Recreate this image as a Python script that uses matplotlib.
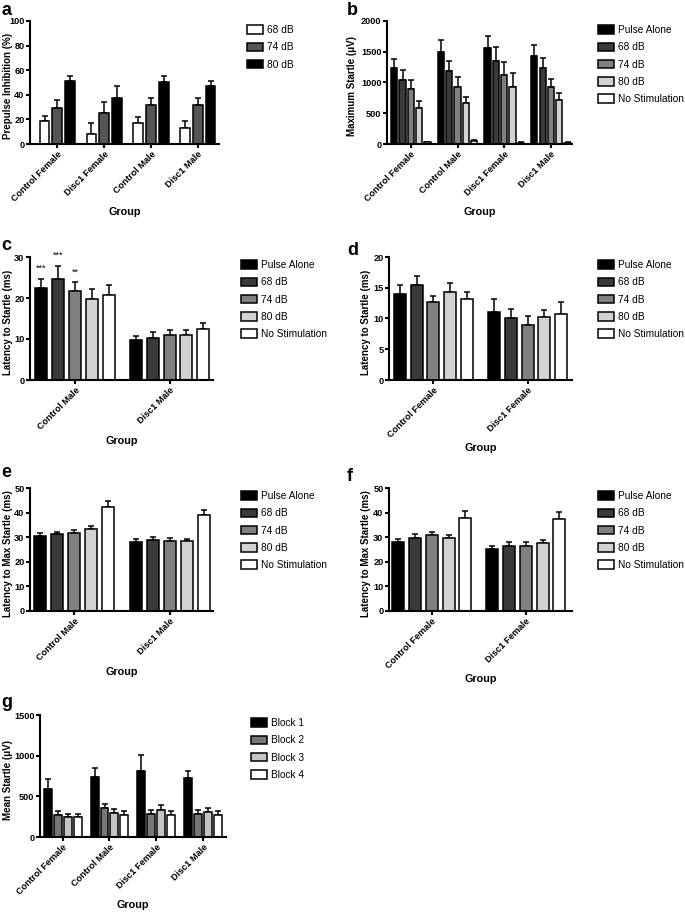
import numpy as np
import matplotlib.pyplot as plt
from matplotlib.patches import Patch

plt.rcParams['font.family'] = ['Liberation Sans', 'DejaVu Sans']

# ---- data ----
# a
groups_a = ["Control Female", "Disc1 Female", "Control Male", "Disc1 Male"]
series_a = ["68 dB", "74 dB", "80 dB"]
ppi_mean = [[18.3, 8.4, 17.2, 13.1],
            [29.2, 25.1, 31.9, 31.9],
            [51.2, 37.6, 50.7, 46.9]]
ppi_err = [[4.6, 9.0, 4.6, 5.7],
           [6.8, 8.7, 5.4, 5.4],
           [4.1, 9.5, 4.6, 4.6]]

# b
groups_b = ["Control Female", "Control Male", "Disc1 Female", "Disc1 Male"]
series_stim = ["Pulse Alone", "68 dB", "74 dB", "80 dB", "No Stimulation"]
max_mean = [[1240, 1495, 1555, 1430],
            [1035, 1180, 1350, 1240],
            [890, 930, 1125, 925],
            [590, 660, 920, 712],
            [27, 54, 20, 20]]
max_err = [[147, 200, 207, 174],
           [163, 174, 223, 158],
           [147, 152, 207, 130],
           [114, 108, 229, 125],
           [8, 10, 6, 6]]

# c
groups_c = ["Control Male", "Disc1 Male"]
lat_male = [[22.5, 9.75], [24.6, 10.3], [21.7, 11.0], [19.7, 10.9], [20.8, 12.5]]
lat_male_err = [[2.1, 0.9], [3.3, 1.3], [2.1, 1.3], [2.6, 1.2], [2.4, 1.4]]
stars_c = ["***", "***", "**", "", ""]

# d
groups_d = ["Control Female", "Disc1 Female"]
lat_fem = [[14.0, 11.07], [15.45, 10.14], [12.66, 9.0], [14.36, 10.2], [13.2, 10.8]]
lat_fem_err = [[1.5, 2.1], [1.5, 1.4], [0.95, 1.4], [1.4, 1.2], [1.1, 1.86]]

# e
lmax_male = [[30.6, 28.1], [31.1, 28.7], [31.7, 28.4], [33.2, 28.5], [42.4, 39.0]]
lmax_male_err = [[1.1, 1.0], [1.2, 1.2], [1.2, 1.1], [1.3, 0.8], [2.4, 2.2]]

# f
lmax_fem = [[28.2, 25.1], [29.8, 26.6], [30.8, 26.6], [29.6, 27.7], [38.0, 37.5]]
lmax_fem_err = [[1.2, 1.3], [1.5, 1.6], [1.5, 1.6], [1.2, 1.2], [2.6, 2.6]]

# g
groups_g = ["Control Female", "Control Male", "Disc1 Female", "Disc1 Male"]
series_g = ["Block 1", "Block 2", "Block 3", "Block 4"]
hab_mean = [[586, 742, 807, 721],
            [275, 352, 283, 287],
            [250, 291, 328, 307],
            [242, 266, 275, 275]]
hab_err = [[131, 106, 205, 94],
           [49, 54, 53, 49],
           [33, 49, 61, 45],
           [41, 54, 45, 49]]

stim_colors = ["#000000", "#3a3a3a", "#808080", "#d2d2d2", "#ffffff"]

W, H = 685, 913
fig = plt.figure(figsize=(W / 100, H / 100), dpi=100)


def make_ax(l, r, t, b):
    return fig.add_axes([l / W, 1 - b / H, (r - l) / W, (b - t) / H])


def panel(box, groups, names, means, errs, colors, pitch, width, xlim,
          ylim, yticks, ylabel, ylab_x, letter, letter_xy, leg_xy, stars=None):
    ax = make_ax(*box)
    n = len(names)
    x = np.arange(len(groups))
    offs = (np.arange(n) - (n - 1) / 2) * pitch
    for i in range(n):
        xi = x + offs[i]
        ax.bar(xi, means[i], width, color=colors[i], edgecolor="black",
               linewidth=1.1, label=names[i], zorder=2)
        ax.errorbar(xi, means[i], yerr=[np.zeros(len(groups)), errs[i]],
                    fmt="none", ecolor="black", elinewidth=1.1, capsize=2,
                    capthick=1.1, zorder=1)
        if stars is not None and stars[i]:
            ax.text(xi[0], means[i][0] + errs[i][0] + ylim[1] * 0.085, stars[i],
                    ha="center", va="center", fontsize=6.5)
    ax.set_xlim(*xlim)
    ax.set_ylim(*ylim)
    ax.set_yticks(yticks)
    ax.set_xticks(x)
    ax.set_xticklabels(groups, rotation=45, ha="right", rotation_mode="anchor",
                       fontsize=6.6, fontweight="bold")
    for lab in ax.get_yticklabels():
        lab.set_fontweight("bold")
        lab.set_fontsize(6.6)
    ax.spines["top"].set_visible(False)
    ax.spines["right"].set_visible(False)
    ax.spines["left"].set_linewidth(1.5)
    ax.spines["bottom"].set_linewidth(1.5)
    ax.tick_params(direction="out", length=3, width=1.5, pad=1)
    ax.set_ylabel(ylabel, fontsize=7, fontweight="bold", va="center")
    ax.yaxis.set_label_coords((ylab_x - box[0]) / (box[1] - box[0]), 0.47)
    ax.set_xlabel("Group", fontsize=7.8, fontweight="bold", labelpad=3)
    fig.text(letter_xy[0] / W, 1 - letter_xy[1] / H, letter, fontsize=13,
             fontweight="bold", va="top")
    handles = [Patch(facecolor=colors[i], edgecolor="black", linewidth=1.1,
                     label=names[i]) for i in range(n)]
    fig.legend(handles=handles, loc="upper left",
               bbox_to_anchor=(leg_xy[0] / W, 1 - leg_xy[1] / H),
               frameon=False, fontsize=7.3, handlelength=1.6, handleheight=0.9,
               labelspacing=0.72, handletextpad=0.4, borderaxespad=0,
               borderpad=0)
    return ax


panel((30, 219, 21, 144), groups_a, series_a, ppi_mean, ppi_err,
      ["#ffffff", "#555555", "#000000"], 0.27, 0.21, (-0.58, 3.45),
      (0, 100), [0, 20, 40, 60, 80, 100], "Prepulse Inhibition (%)", 8,
      "a", (1, 2), (247, 25))

panel((387, 572, 21, 144), groups_b, series_stim, max_mean, max_err,
      stim_colors, 0.178, 0.135, (-0.51, 3.45),
      (0, 2000), [0, 500, 1000, 1500, 2000], "Maximum Startle (\u03bcV)", 352,
      "b", (347, 2), (598, 25))

panel((30, 213, 257, 380), groups_c, series_stim, lat_male, lat_male_err,
      stim_colors, 0.178, 0.127, (-0.477, 1.46),
      (0, 30), [0, 10, 20, 30], "Latency to Startle (ms)", 8,
      "c", (1, 237), (241, 260), stars=stars_c)

panel((389, 572, 257, 380), groups_d, series_stim, lat_fem, lat_fem_err,
      stim_colors, 0.178, 0.127, (-0.47, 1.47),
      (0, 20), [0, 5, 10, 15, 20], "Latency to Startle (ms)", 366,
      "d", (347, 242), (598, 260))

panel((30, 213, 488, 611), groups_c, series_stim, lmax_male, lmax_male_err,
      stim_colors, 0.178, 0.127, (-0.46, 1.45),
      (0, 50), [0, 10, 20, 30, 40, 50], "Latency to Max Startle (ms)", 8,
      "e", (1, 464), (241, 491))

panel((389, 572, 488, 611), groups_d, series_stim, lmax_fem, lmax_fem_err,
      stim_colors, 0.178, 0.127, (-0.455, 1.49),
      (0, 50), [0, 10, 20, 30, 40, 50], "Latency to Max Startle (ms)", 366,
      "f", (347, 468), (598, 491))

panel((40, 226, 715, 837), groups_g, series_g, hab_mean, hab_err,
      ["#000000", "#777777", "#c4c4c4", "#ffffff"], 0.213, 0.17, (-0.485, 3.49),
      (0, 1500), [0, 500, 1000, 1500], "Mean Startle (\u03bcV)", 8,
      "g", (1, 694), (251, 718))

fig.savefig("out.png", dpi=100)
